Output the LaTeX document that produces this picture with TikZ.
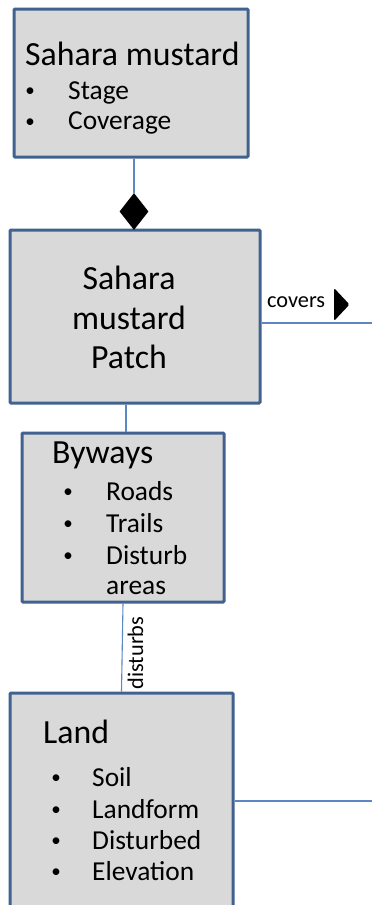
\documentclass[tikz,border=0pt]{standalone}
\usepackage{fontspec}
\setmainfont{Carlito}
\usetikzlibrary{shapes.geometric}
\definecolor{boxedge}{HTML}{41628F}
\definecolor{boxfill}{HTML}{D9D9D9}
\definecolor{wire}{HTML}{5B87C5}
\newcommand{\itemdot}{\raisebox{2.2pt}{\fontsize{19}{19}\selectfont •}}
\tikzset{
  classbox/.style={draw=boxedge, fill=boxfill, line width=3pt, rounded corners=1pt,
    rectangle, inner sep=0pt},
  wireline/.style={draw=wire, line width=1.1pt},
  titletxt/.style={inner sep=0pt, font=\fontsize{33.8}{40}\selectfont},
  itemtxt/.style={inner sep=0pt, font=\fontsize{27.4}{32}\selectfont},
  labeltxt/.style={inner sep=0pt, font=\fontsize{22.3}{26}\selectfont},
}
\begin{document}
\begin{tikzpicture}[x=1pt, y=-1pt]
\clip (0,0) rectangle (372,905);
\fill[white] (0,0) rectangle (372,905);

% class boxes
\node[classbox, minimum width=234pt, minimum height=148pt] (mustard) at (131,83) {};
\node[classbox, minimum width=250pt, minimum height=173pt] (patch) at (135,316.5) {};
\node[classbox, minimum width=202pt, minimum height=169pt] (byways) at (123,517.5) {};
\node[classbox, minimum width=223pt, minimum height=232pt] (land) at (121.5,809) {};

% composition diamond
\node[diamond, fill=black, inner sep=0pt, minimum width=29pt, minimum height=37pt] (dia) at (134,211.5) {};

% Sahara mustard
\node[titletxt, anchor=base west] (t1) at (25,65) {Sahara mustard};
\node[itemtxt, anchor=base] (b11) at (30,99) {\itemdot};
\node[itemtxt, anchor=base west] (i11) at (68,99) {Stage};
\node[itemtxt, anchor=base] (b12) at (30,129.5) {\itemdot};
\node[itemtxt, anchor=base west] (i12) at (68,129.5) {Coverage};

% Sahara mustard Patch
\node[titletxt, anchor=base] (t2a) at (129,289) {Sahara};
\node[titletxt, anchor=base] (t2b) at (129,329) {mustard};
\node[titletxt, anchor=base] (t2c) at (129,368) {Patch};

% Byways
\node[titletxt, anchor=base west] (t3) at (52,463) {Byways};
\node[itemtxt, anchor=base] (b31) at (68,500) {\itemdot};
\node[itemtxt, anchor=base west] (i31) at (106,500) {Roads};
\node[itemtxt, anchor=base] (b32) at (68,532) {\itemdot};
\node[itemtxt, anchor=base west] (i32) at (106,532) {Trails};
\node[itemtxt, anchor=base] (b33) at (68,564) {\itemdot};
\node[itemtxt, anchor=base west] (i33) at (106,564) {Disturb};
\node[itemtxt, anchor=base west] (i34) at (106,594) {areas};

% Land
\node[titletxt, anchor=base west] (t4) at (43,743) {Land};
\node[itemtxt, anchor=base] (b41) at (56,786) {\itemdot};
\node[itemtxt, anchor=base west] (i41) at (92,786) {Soil};
\node[itemtxt, anchor=base] (b42) at (56,818) {\itemdot};
\node[itemtxt, anchor=base west] (i42) at (92,818) {Landform};
\node[itemtxt, anchor=base] (b43) at (56,849) {\itemdot};
\node[itemtxt, anchor=base west] (i43) at (92,849) {Disturbed};
\node[itemtxt, anchor=base] (b44) at (56,880) {\itemdot};
\node[itemtxt, anchor=base west] (i44) at (92,880) {Elevation};

% connectors
\coordinate (c1) at (126,0);
\coordinate (coversend) at (372,323);
\coordinate (landend) at (372,801);
\draw[wireline] (dia.north) -- (dia.north |- mustard.south);
\draw[wireline] (c1 |- patch.south) -- (c1 |- byways.north);
\draw[wireline] (byways.south) -- (land.north);
\draw[wireline] (coversend -| patch.east) -- (coversend);
\draw[wireline] (landend -| land.east) -- (landend);

% association labels and reading direction
\node[labeltxt, anchor=base west] (covers) at (267,307) {covers};
\coordinate (dir) at (334,304.5);
\fill[black, rounded corners=1.5pt] ([yshift=16.5pt]dir) -- ([xshift=15.5pt]dir) -- ([yshift=-16.5pt]dir) -- cycle;
\node[labeltxt, rotate=90, anchor=base] (disturbs) at (143,653) {disturbs};
\end{tikzpicture}
\end{document}
